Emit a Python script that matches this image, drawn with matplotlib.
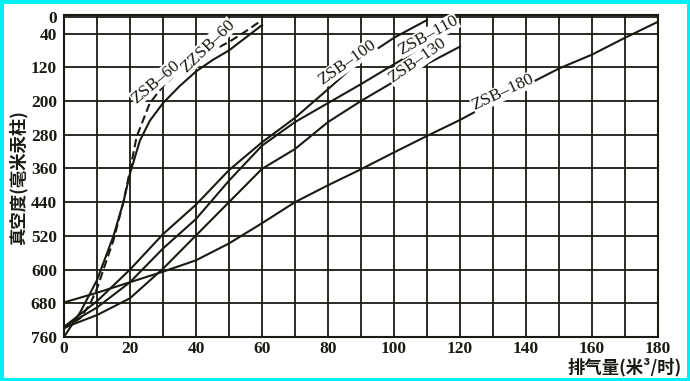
import matplotlib
matplotlib.use('Agg')
import matplotlib.pyplot as plt
from matplotlib.patches import Rectangle

# 数据
x_zsb60 = [0, 5, 10, 15, 18, 20, 23, 26, 30, 35, 40, 45, 50, 55, 60]
y_zsb60 = [760, 700, 625, 520, 440, 372, 294, 247, 205, 165, 130, 103, 80, 50, 20]

x_zzsb60 = [0, 5, 8, 10, 15, 18, 20, 22, 26, 30, 36, 40, 45, 50, 55, 60]
y_zzsb60 = [740, 715, 680, 645, 530, 440, 365, 285, 205, 165, 120, 100, 80, 60, 35, 8]

x_zsb100 = [0, 10, 20, 30, 40, 50, 60, 70, 80, 90, 100, 110]
y_zsb100 = [736, 675, 600, 516, 446, 364, 298, 240, 172, 102, 50, 8]

x_zsb110 = [0, 10, 20, 30, 40, 50, 60, 70, 80, 90, 100, 110, 120]
y_zsb110 = [736, 690, 630, 550, 480, 389, 306, 250, 205, 160, 113, 66, 20]

x_zsb130 = [0, 10, 20, 30, 40, 50, 60, 70, 80, 90, 100, 110, 120]
y_zsb130 = [738, 708, 668, 598, 519, 440, 361, 314, 250, 200, 154, 112, 71]

x_zsb180 = [0, 10, 20, 30, 40, 50, 60, 70, 80, 90, 100, 110, 120, 130, 140, 150, 160, 170, 180]
y_zsb180 = [678, 655, 630, 605, 578, 538, 490, 440, 400, 362, 322, 283, 245, 203, 163, 123, 90, 50, 12]

y_ticks = [0, 40, 120, 200, 280, 360, 440, 520, 600, 680, 760]
x_ticks = [0, 20, 40, 60, 80, 100, 120, 140, 160, 180]

# 曲线标注: 文字, x, y, 角度
labels = [
    ('ZSB–60', 27.7, 155, 40),
    ('ZZSB–60', 43.5, 70, 44),
    ('ZSB–100', 85.7, 110, 35),
    ('ZSB–110', 110.3, 45, 29),
    ('ZSB–130', 107, 105, 35),
    ('ZSB–180', 133, 180, 25),
]

W, H = 690, 381
fig = plt.figure(figsize=(W / 100, H / 100), dpi=100)
fig.patch.set_facecolor('white')
ax = fig.add_axes([64 / W, 1 - 337 / H, (658 - 64) / W, (337 - 15) / H])

ink = '#1a1a14'
lw = 1.5

ax.plot(x_zsb60, y_zsb60, color=ink, lw=lw, zorder=3)
ax.plot(x_zzsb60, y_zzsb60, color=ink, lw=lw, dashes=(4, 2), zorder=3)
ax.plot(x_zsb100, y_zsb100, color=ink, lw=lw, zorder=3)
ax.plot(x_zsb110, y_zsb110, color=ink, lw=lw, zorder=3)
ax.plot(x_zsb130, y_zsb130, color=ink, lw=lw, zorder=3)
ax.plot(x_zsb180, y_zsb180, color=ink, lw=lw, zorder=3)

for txt, lx, ly, rot in labels:
    ax.text(lx, ly, txt, rotation=rot, rotation_mode='anchor', ha='center', va='center',
            fontsize=12.5, family=['Liberation Serif', 'DejaVu Serif'], color=ink, zorder=4,
            bbox=dict(facecolor='white', edgecolor='none', pad=0.3))

ax.set_xlim(0, 180)
ax.set_ylim(760, -4)
ax.set_xticks(x_ticks)
ax.set_xticks(range(0, 181, 10), minor=True)
ax.set_yticks(y_ticks)
ax.grid(True, which='both', axis='x', color=ink, lw=1.3)
ax.grid(True, which='major', axis='y', color=ink, lw=1.3)
ax.tick_params(which='both', length=0)
ax.tick_params(axis='y', pad=5)
ax.tick_params(axis='x', pad=3)
for lab in ax.get_xticklabels() + ax.get_yticklabels():
    lab.set_family('Liberation Serif')
    lab.set_fontweight('bold')
    lab.set_fontsize(12.5)
    lab.set_color(ink)
for s in ax.spines.values():
    s.set_color(ink)
    s.set_linewidth(1.5)

fig.text(18 / W, 1 - 178 / H, '真空度(毫米汞柱)', rotation=90, ha='center', va='center',
         fontsize=12.5, fontweight='bold', family=['Noto Sans CJK SC', 'DejaVu Sans'], color=ink)
fig.text(682 / W, 1 - 367 / H, '排气量(米³/时)', ha='right', va='center',
         fontsize=12.5, fontweight='bold', family=['Noto Sans CJK SC', 'DejaVu Sans'], color=ink)

# 青色边框
fig.patches.append(Rectangle((0, 0), 1, 1, transform=fig.transFigure, fill=False,
                             edgecolor='#00eef5', linewidth=5, zorder=10))

fig.savefig('out.png', dpi=100)
